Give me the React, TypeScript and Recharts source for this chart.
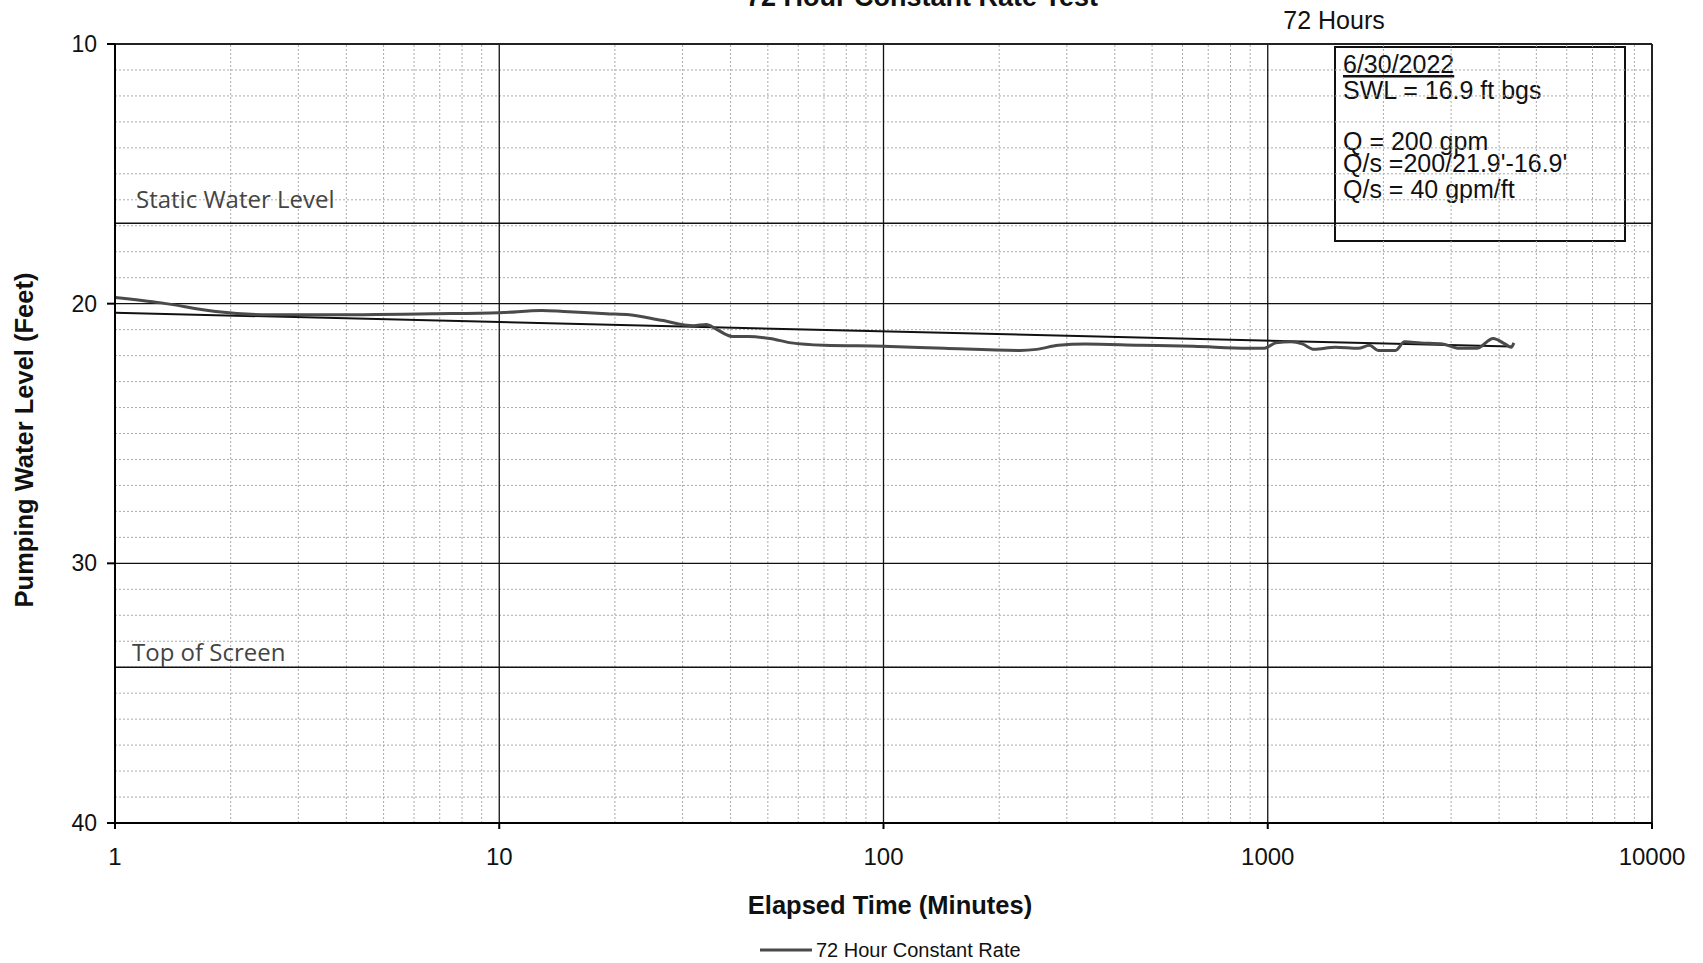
import { LineChart, Line, XAxis, YAxis, ReferenceLine } from 'recharts';

// pumping test record (elapsed minutes vs depth to water, ft)
const elapsedMinutes = [
  1, 1.32, 1.83, 2.54, 3.5, 6.7, 10, 12.9, 14.7, 19, 21.8, 26.4, 32, 34.6, 36.6,
  40.4, 44.5, 50.6, 57.6, 70, 100, 144, 226, 250, 285, 335, 465, 640, 890, 980,
  1050, 1150, 1230, 1320, 1500, 1720, 1840, 1940, 2150, 2270, 2500, 2850, 3150,
  3500, 3860, 4140, 4300, 4370,
];
const waterLevelFt = [
  19.76, 19.97, 20.3, 20.43, 20.43, 20.39, 20.35, 20.26, 20.3, 20.39, 20.43,
  20.64, 20.85, 20.8, 20.97, 21.26, 21.26, 21.34, 21.51, 21.6, 21.64, 21.72, 21.8,
  21.76, 21.6, 21.55, 21.6, 21.64, 21.72, 21.72, 21.51, 21.47, 21.55, 21.76,
  21.68, 21.72, 21.6, 21.8, 21.8, 21.47, 21.51, 21.55, 21.72, 21.72, 21.34,
  21.55, 21.68, 21.51,
];
const trendMinutes = [1, 4300];
const trendLevelFt = [20.35, 21.65];

const seriesName = '72 Hour Constant Rate';
const xTicks = [1, 10, 100, 1000, 10000];
const yTicks = [10, 20, 30, 40];
const majorX = [10, 100, 1000];
const majorY = [20, 30];
const minorSteps = [2, 3, 4, 5, 6, 7, 8, 9];
const minorDecades = [1, 10, 100, 1000];
const minorFeet = [
  11, 12, 13, 14, 15, 16, 17, 18, 19, 21, 22, 23, 24, 25, 26, 27, 28, 29, 31, 32,
  33, 34, 35, 36, 37, 38, 39,
];
const staticWaterLevel = 16.9;
const topOfScreen = 34;

const noteLines = ['SWL = 16.9 ft bgs', 'Q = 200 gpm', "Q/s =200/21.9'-16.9'", 'Q/s = 40 gpm/ft'];
const noteBaselines = [99, 150, 172, 198];

const pumpData = elapsedMinutes.map((t, i) => ({ t, level: waterLevelFt[i] }));
const trendData = trendMinutes.map((t, i) => ({ t, level: trendLevelFt[i] }));
const minorX = minorDecades.flatMap((d) => minorSteps.map((m) => m * d));

const ARIAL = 'Liberation Sans, Arial, sans-serif';

function LineLabel(props: any) {
  const { viewBox, text, dx, dy } = props;
  return (
    <text
      x={viewBox.x + dx}
      y={viewBox.y + dy}
      fontFamily="Open Sans, sans-serif"
      fontSize={24}
      fill="#444"
    >
      {text}
    </text>
  );
}

export default function App() {
  return (
    <div style={{ position: 'absolute', left: 0, top: 0, background: '#fff' }}>
      <LineChart
        width={1703}
        height={963}
        margin={{ top: 44, right: 51, left: 55, bottom: 80 }}
      >
        <XAxis
          dataKey="t"
          type="number"
          scale="log"
          domain={[1, 10000]}
          ticks={xTicks}
          allowDataOverflow
          tickSize={6}
          tickMargin={19}
          height={60}
          stroke="#000"
          strokeWidth={2}
          tick={{ fill: '#111', fontSize: 24, fontFamily: ARIAL }}
        />
        <YAxis
          type="number"
          domain={[10, 40]}
          reversed
          ticks={yTicks}
          width={60}
          tickSize={8}
          tickMargin={10}
          stroke="#000"
          strokeWidth={2}
          tick={{ fill: '#111', fontSize: 23, fontFamily: ARIAL }}
        />

        {minorX.map((v) => (
          <ReferenceLine key={`mx-${v}`} x={v} stroke="#aaa" strokeDasharray="2 2" />
        ))}
        {minorFeet.map((v) => (
          <ReferenceLine key={`my-${v}`} y={v} stroke="#aaa" strokeDasharray="2 2" />
        ))}
        {majorX.map((v) => (
          <ReferenceLine key={`Mx-${v}`} x={v} stroke="#111" strokeWidth={1.3} />
        ))}
        {majorY.map((v) => (
          <ReferenceLine key={`My-${v}`} y={v} stroke="#111" strokeWidth={1.3} />
        ))}
        <ReferenceLine y={10} stroke="#222" strokeWidth={2} />
        <ReferenceLine x={10000} stroke="#222" strokeWidth={2} />

        <ReferenceLine
          y={staticWaterLevel}
          stroke="#111"
          strokeWidth={1.5}
          label={<LineLabel text="Static Water Level" dx={21} dy={-15} />}
        />
        <ReferenceLine
          y={topOfScreen}
          stroke="#111"
          strokeWidth={1.5}
          label={<LineLabel text="Top of Screen" dx={17} dy={-6} />}
        />

        <Line
          data={trendData}
          dataKey="level"
          stroke="#111"
          strokeWidth={2}
          dot={false}
          legendType="none"
          isAnimationActive={false}
        />
        <Line
          data={pumpData}
          dataKey="level"
          name={seriesName}
          type="monotone"
          stroke="#4a4a4a"
          strokeWidth={3}
          dot={false}
          isAnimationActive={false}
        />

        <text x={922} y={6} textAnchor="middle" fontFamily={ARIAL} fontSize={27} fontWeight="bold" fill="#111">
          72 Hour Constant Rate Test
        </text>
        <text x={1334} y={29} textAnchor="middle" fontFamily={ARIAL} fontSize={25} fill="#111">
          72 Hours
        </text>

        <rect x={1335} y={47} width={290} height={194} fill="#fff" stroke="#111" strokeWidth={2} />
        <text x={1343} y={73} fontFamily={ARIAL} fontSize={25} fill="#111" textDecoration="underline">
          6/30/2022
        </text>
        {noteLines.map((s, i) => (
          <text key={i} x={1343} y={noteBaselines[i]} fontFamily={ARIAL} fontSize={25} fill="#111">
            {s}
          </text>
        ))}

        <text
          x={24}
          y={440}
          transform="rotate(-90 24 440)"
          textAnchor="middle"
          dominantBaseline="central"
          fontFamily={ARIAL}
          fontSize={25.5}
          fontWeight="bold"
          fill="#111"
        >
          Pumping Water Level (Feet)
        </text>
        <text x={890} y={914} textAnchor="middle" fontFamily={ARIAL} fontSize={25.5} fontWeight="bold" fill="#111">
          Elapsed Time (Minutes)
        </text>

        <line x1={760} y1={950} x2={812} y2={950} stroke="#4a4a4a" strokeWidth={3} />
        <text x={816} y={957} fontFamily={ARIAL} fontSize={20} fill="#111">
          {seriesName}
        </text>
      </LineChart>
    </div>
  );
}
